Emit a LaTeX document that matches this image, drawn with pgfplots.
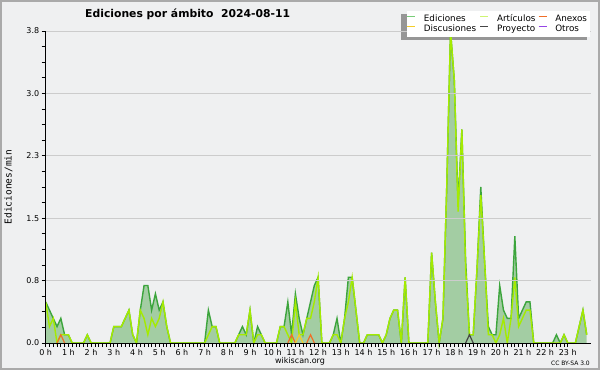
\documentclass[border=0pt]{standalone}
\usepackage{fontspec}
\setmainfont{DejaVu Sans}
\newfontfamily\monofont{DejaVu Sans Mono}
\usepackage{pgfplots}
\pgfplotsset{compat=1.18}
\usepackage{pgfplotstable}

\definecolor{bg}{RGB}{239,240,241}
\definecolor{framec}{RGB}{170,170,170}
\definecolor{shadowc}{RGB}{150,150,150}
\definecolor{fillg}{RGB}{163,205,163}
\definecolor{totg}{RGB}{60,165,60}
\definecolor{legg}{RGB}{120,205,120}
\definecolor{limec}{RGB}{165,235,0}
\definecolor{anex}{RGB}{240,110,40}
\definecolor{disc}{RGB}{245,205,40}
\definecolor{proy}{RGB}{70,70,70}
\definecolor{otro}{RGB}{150,70,230}
\definecolor{gridc}{RGB}{204,204,204}

\pgfplotstableread{
i t a
0 0.5 0.5
1 0.4 0.2
2 0.3 0.3
3 0.2 0.0
4 0.3 0.1
5 0.1 0.1
6 0.1 0.1
7 0 0
8 0 0
9 0 0
10 0 0
11 0.1 0.1
12 0 0
13 0 0
14 0 0
15 0 0
16 0 0
17 0 0
18 0.2 0.2
19 0.2 0.2
20 0.2 0.2
21 0.3 0.3
22 0.4 0.4
23 0.1 0.1
24 0 0
25 0.4 0.4
26 0.7 0.3
27 0.7 0.1
28 0.4 0.3
29 0.6 0.2
30 0.4 0.3
31 0.5 0.5
32 0.2 0.2
33 0 0
34 0 0
35 0 0
36 0 0
37 0 0
38 0 0
39 0 0
40 0 0
41 0 0
42 0 0
43 0.4 0.1
44 0.2 0.2
45 0.2 0.2
46 0 0
47 0 0
48 0 0
49 0 0
50 0 0
51 0.1 0.1
52 0.2 0.1
53 0.1 0.1
54 0.4 0.4
55 0 0
56 0.2 0.1
57 0.1 0.1
58 0 0
59 0 0
60 0 0
61 0 0
62 0.2 0.2
63 0.2 0.2
64 0.5 0.1
65 0.1 0
66 0.6 0.5
67 0.3 0.1
68 0.1 0.1
69 0.3 0.3
70 0.5 0.3
71 0.7 0.5
72 0.8 0.8
73 0 0
74 0 0
75 0 0
76 0.1 0.1
77 0.3 0.1
78 0 0
79 0.3 0.3
80 0.8 0.5
81 0.8 0.8
82 0.4 0.4
83 0 0
84 0 0
85 0.1 0.1
86 0.1 0.1
87 0.1 0.1
88 0.1 0.1
89 0 0
90 0.1 0.1
91 0.3 0.3
92 0.4 0.4
93 0.4 0.4
94 0 0
95 0.8 0.8
96 0 0
97 0 0
98 0 0
99 0 0
100 0 0
101 0 0
102 1.1 1.1
103 0.5 0.5
104 0 0
105 0.3 0.3
106 1.9 1.9
107 3.8 3.8
108 3.2 3.2
109 1.7 1.6
110 2.6 2.6
111 1.0 0.9
112 0.1 0.1
113 0.1 0.1
114 0.9 0.9
115 1.9 1.8
116 1.0 1.0
117 0.2 0.1
118 0.1 0.1
119 0.1 0
120 0.7 0.1
121 0.4 0.3
122 0.3 0
123 0.3 0.3
124 1.3 0.8
125 0.3 0.2
126 0.4 0.3
127 0.5 0.4
128 0.5 0.4
129 0 0
130 0 0
131 0 0
132 0 0
133 0 0
134 0 0
135 0.1 0
136 0 0
137 0.1 0.1
138 0 0
139 0 0
140 0 0
141 0.2 0.2
142 0.4 0.4
143 0.1 0.1
}\data

\begin{document}
\begin{tikzpicture}
\fill[bg] (0,0) rectangle (600bp,370bp);
\draw[framec, line width=2bp] (1bp,1bp) rectangle (599bp,369bp);
\fill[shadowc] (401bp,329.7bp) rectangle (587bp,356bp);
\path[use as bounding box] (0,0) rectangle (600bp,370bp);
\begin{axis}[
  at={(45.7bp,27bp)}, anchor=south west,
  scale only axis, width=544.8bp, height=312bp,
  xmin=0, xmax=144, ymin=0, ymax=3.8,
  axis x line*=bottom, axis y line*=left,
  axis line style={black, line width=0.9bp, -},
  xtick={0,6,...,138},
  xticklabels={0 h,1 h,2 h,3 h,4 h,5 h,6 h,7 h,8 h,9 h,10 h,11 h,12 h,13 h,14 h,15 h,16 h,17 h,18 h,19 h,20 h,21 h,22 h,23 h},
  minor x tick num=5,
  ytick={0,0.76,1.52,2.28,3.04,3.8},
  yticklabels={0.0,0.8,1.5,2.3,3.0,3.8},
  minor y tick num=3,
  tick align=outside,
  major tick length=4bp, minor tick length=4bp,
  tick style={black, line width=0.7bp},
  ymajorgrids, grid style={gridc, line width=0.9bp},
  axis on top,
  clip=false,
  unbounded coords=jump,
  ticklabel style={font=\fontsize{8bp}{9bp}\selectfont},
  /pgf/number format/assume math mode=true,
  xticklabel style={yshift=1bp},
  yticklabel style={xshift=1bp},
  legend columns=3,
  legend cell align=left,
  legend image code/.code={\path (0bp,0bp) (16.5bp,0bp); \draw[#1, line width=1bp] (0bp,3bp) -- (8bp,3bp);},
  legend style={at={(axis description cs:1,1.0641)}, anchor=north east,
    fill=white, draw=none, inner xsep=0bp, inner ysep=3.5bp,
    font=\fontsize{8.8bp}{9bp}\selectfont,
    nodes={inner sep=0pt, text height=7bp, text depth=2bp},
    column sep=0bp,
    row sep=1.3bp},
]
\addplot[draw=none, fill=fillg, forget plot] table[x=i, y=t] {\data} \closedcycle;
\addplot[totg, line width=1.4bp, forget plot] table[x=i, y=t] {\data};
\addplot[limec, line width=1.4bp, forget plot] table[x=i, y=a] {\data};
\addplot[anex, line width=1.2bp, forget plot] coordinates {(3,0) (4,0.1) (5,0) (5.5,nan) (64,0) (65,0.1) (66,0) (66.5,nan) (69,0) (70,0.1) (71,0)};
\addplot[disc, line width=1.2bp, forget plot] coordinates {(66,0) (67,0.1) (68,0)};
\addplot[proy, line width=1.2bp, forget plot] coordinates {(111,0) (112,0.1) (113,0)};
\addlegendimage{legg}
\addlegendentry{\makebox[56bp][l]{Ediciones}}
\addlegendimage{limec!55!white}
\addlegendentry{\makebox[41bp][l]{Artículos}}
\addlegendimage{anex}
\addlegendentry{\makebox[35bp][l]{Anexos}}
\addlegendimage{disc}
\addlegendentry{\makebox[56bp][l]{Discusiones}}
\addlegendimage{proy}
\addlegendentry{\makebox[41bp][l]{Proyecto}}
\addlegendimage{otro}
\addlegendentry{\makebox[35bp][l]{Otros}}
\end{axis}
\node[anchor=base west, inner sep=0pt, font=\bfseries\fontsize{10.8bp}{12bp}\selectfont] at (85bp,352bp) {Ediciones por ámbito\ \ 2024-08-11};
\node[rotate=90, inner sep=0pt, font=\monofont\fontsize{9.5bp}{10bp}\selectfont] at (8.5bp,183bp) {Ediciones/min};
\node[inner sep=0pt, font=\fontsize{8bp}{9bp}\selectfont] at (300bp,8.5bp) {wikiscan.org};
\node[anchor=east, inner sep=0pt, font=\fontsize{6bp}{7bp}\selectfont] at (590bp,7bp) {CC BY-SA 3.0};
\end{tikzpicture}
\end{document}
